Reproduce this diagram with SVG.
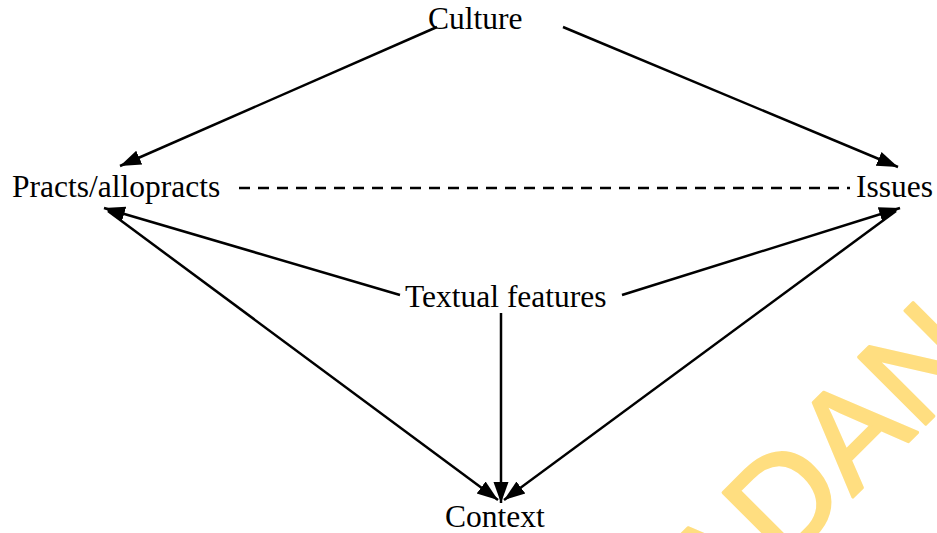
<svg xmlns="http://www.w3.org/2000/svg" width="937" height="533" viewBox="0 0 937 533">
<style>
.lbl{font-family:"Liberation Serif","Times New Roman",serif;font-size:31.5px;fill:#000}
.ln{stroke:#000;stroke-width:2.5;fill:none}
.arr{marker-end:url(#ah)}
.dash{stroke-dasharray:11 8}
.wm{font-family:"Liberation Sans",Arial,sans-serif;font-size:138px;fill:#FFDE80;stroke:#FFDE80;stroke-width:3;stroke-linejoin:round}
</style>
<defs>
<marker id="ah" markerUnits="userSpaceOnUse" markerWidth="22" markerHeight="18" viewBox="0 0 22 18" refX="21" refY="9" orient="auto">
<path d="M0,1.5 L21,9 L0,16.5 Z" fill="#000"/>
</marker>
</defs>
<rect width="937" height="533" fill="#fff"/>
<text class="wm" transform="translate(782,568) rotate(-45)" x="-222" y="0">IBADAN</text>
<g id="connectors">
<line class="ln arr" x1="437" y1="27" x2="120" y2="166"/>
<line class="ln arr" x1="563" y1="27" x2="898" y2="167"/>
<line class="ln dash" x1="239" y1="188" x2="850" y2="188"/>
<line class="ln arr" x1="400" y1="295" x2="104" y2="208"/>
<line class="ln arr" x1="622" y1="295" x2="900" y2="208"/>
<line class="ln arr" x1="501" y1="313" x2="501" y2="503"/>
<line class="ln arr" x1="108" y1="211" x2="498" y2="500"/>
<line class="ln arr" x1="896" y1="211" x2="504" y2="500"/>
</g>
<g id="culture"><text class="lbl" x="428" y="29">Culture</text></g>
<g id="practs"><text class="lbl" x="12" y="197">Practs/allopracts</text></g>
<g id="issues"><text class="lbl" x="856" y="197">Issues</text></g>
<g id="textual"><text class="lbl" x="405" y="307">Textual features</text></g>
<g id="context"><text class="lbl" x="445" y="527">Context</text></g>
</svg>
